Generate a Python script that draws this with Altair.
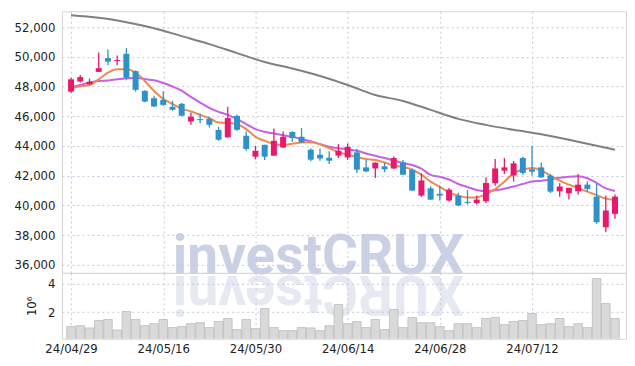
import altair as alt
import pandas as pd

dates = ["24/04/29", "24/04/30", "24/05/02", "24/05/03", "24/05/07", "24/05/08", "24/05/09", "24/05/10", "24/05/13", "24/05/14",
         "24/05/16", "24/05/17", "24/05/20", "24/05/21", "24/05/22", "24/05/23", "24/05/24", "24/05/27", "24/05/28", "24/05/29",
         "24/05/30", "24/05/31", "24/06/03", "24/06/04", "24/06/05", "24/06/07", "24/06/10", "24/06/11", "24/06/12", "24/06/13",
         "24/06/14", "24/06/17", "24/06/18", "24/06/19", "24/06/20", "24/06/21", "24/06/24", "24/06/25", "24/06/26", "24/06/27",
         "24/06/28", "24/07/01", "24/07/02", "24/07/03", "24/07/04", "24/07/05", "24/07/08", "24/07/09", "24/07/10", "24/07/11",
         "24/07/12", "24/07/15", "24/07/16", "24/07/17", "24/07/18", "24/07/19", "24/07/22", "24/07/23", "24/07/24", "24/07/25"]

opens = [47660, 48340, 48160, 48990, 49920, 49720, 50210, 49040, 47710, 47220,
         47110, 46640, 46840, 45650, 45810, 45830, 45080, 44580, 46030, 44690,
         43280, 44080, 43350, 43900, 44940, 44620, 43750, 43410, 43210, 43350,
         43230, 43570, 42560, 42490, 42630, 42490, 42890, 42390, 40660, 41150,
         40780, 40330, 40660, 40240, 40150, 40280, 41490, 42340, 42010, 43190,
         42430, 42560, 42000, 40950, 40820, 40950, 41400, 40590, 38530, 39430]
highs = [48590, 48780, 48540, 50290, 50490, 50090, 50590, 49090, 47760, 47390,
         47690, 47040, 46890, 46250, 46190, 45970, 45290, 46640, 46100, 44980,
         44020, 44090, 45180, 44980, 44990, 45200, 43840, 43840, 43640, 44130,
         44170, 43790, 43060, 42890, 42880, 43290, 43060, 42490, 42160, 41290,
         41330, 41180, 40860, 41040, 40660, 41890, 43120, 43190, 42990, 43280,
         44020, 42890, 42120, 41490, 41190, 42120, 41620, 41450, 40660, 40730]
lows = [47590, 48270, 48140, 48980, 49440, 49440, 48430, 47660, 46940, 46630,
        46700, 46370, 45990, 45430, 45540, 45250, 44350, 44570, 45020, 43680,
        43100, 43060, 43340, 43860, 44290, 44230, 42970, 43010, 42790, 43190,
        43060, 42190, 42230, 41850, 42230, 42450, 42040, 40990, 40570, 40370,
        40330, 40260, 39940, 40060, 40060, 40170, 41330, 42120, 41600, 42070,
        42000, 41840, 40840, 40590, 40390, 40730, 40950, 38760, 38200, 39100]
closes = [48490, 48640, 48330, 49240, 49680, 49790, 48600, 47780, 46990, 46660,
          46770, 46440, 46040, 45970, 45740, 45430, 44420, 45880, 45090, 43800,
          43680, 43280, 44350, 44620, 44540, 44240, 43080, 43160, 43010, 43680,
          43950, 42410, 42290, 42880, 42430, 43190, 42070, 41000, 41680, 40390,
          40660, 41060, 39990, 40170, 40390, 41510, 42490, 42560, 42830, 42190,
          42270, 41890, 40930, 41270, 41180, 41400, 41110, 38870, 39660, 40590]
volumes = [990000, 1060000, 900000, 1420000, 1490000, 760000, 2050000, 1490000, 1060000, 1200000,
           1490000, 920000, 990000, 1200000, 1270000, 920000, 1350000, 1560000, 780000, 1490000,
           850000, 2260000, 920000, 710000, 710000, 920000, 900000, 710000, 1060000, 2540000,
           1200000, 1350000, 920000, 1490000, 780000, 2190000, 920000, 1630000, 1270000, 1270000,
           990000, 710000, 1200000, 1200000, 920000, 1560000, 1630000, 1130000, 1350000, 1420000,
           1910000, 1130000, 1200000, 1560000, 990000, 1200000, 920000, 4370000, 2610000, 1560000]
ma_short = [47886, 48020, 48108, 48490, 48933, 49161, 49161, 48933, 48376, 47705,
            47168, 46833, 46497, 46329, 46094, 45873, 45578, 45557, 45470, 45135,
            44618, 44349, 44128, 44068, 44148, 44235, 44249, 44114, 43846, 43578,
            43410, 43256, 43121, 43054, 42893, 42672, 42605, 42403, 42068, 41598,
            41242, 40880, 40658, 40538, 40538, 40773, 41095, 41598, 42168, 42403,
            42517, 42363, 42001, 41665, 41397, 41162, 40927, 40692, 40457, 40370]
ma_mid = [47953, 48108, 48262, 48376, 48410, 48490, 48557, 48598, 48510, 48423,
          48242, 48007, 47725, 47302, 46920, 46564, 46296, 46094, 45806, 45470,
          45135, 44953, 44839, 44719, 44618, 44464, 44329, 44128, 43947, 43846,
          43779, 43678, 43497, 43343, 43188, 43027, 42860, 42725, 42470, 42054,
          41920, 41746, 41444, 41242, 41041, 40947, 41014, 41128, 41276, 41444,
          41611, 41665, 41752, 41866, 41933, 41967, 41833, 41517, 41142, 40974]
ma_long_idx = [0, 3, 6, 9, 12, 15, 18, 21, 24, 27, 30, 33, 36, 39, 42, 45, 48, 51, 54, 57, 59]
ma_long = [52805, 52638, 52336, 51933, 51396, 50859, 50255, 49651, 49215, 48712, 48108,
           47437, 47034, 46430, 45826, 45423, 45088, 44786, 44417, 44014, 43745]
tick_idx = [0, 10, 20, 30, 40, 50]
price_ticks = [36000, 38000, 40000, 42000, 44000, 46000, 48000, 50000, 52000]

UP = "#e8196c"
DOWN = "#2e91c7"
GRID = "#c3c9de"
FONT = "DejaVu Sans Condensed"

df = pd.DataFrame({"idx": list(range(len(dates))), "date": dates, "open": opens, "high": highs,
                   "low": lows, "close": closes, "vol": volumes, "ma_s": ma_short, "ma_m": ma_mid})
dfl = pd.DataFrame({"idx": ma_long_idx, "ma_l": ma_long})

xdom = [-0.45, 59.65]
label_expr = "[" + ",".join("'%s'" % d for d in dates) + "][datum.value]"

x_hidden = alt.X("idx:Q", scale=alt.Scale(domain=xdom, nice=False, zero=False),
                 axis=alt.Axis(values=tick_idx, labels=False, ticks=False, domain=False, title=None,
                               grid=True, gridColor=GRID, gridDash=[2, 3]))
x_shown = alt.X("idx:Q", scale=alt.Scale(domain=xdom, nice=False, zero=False),
                axis=alt.Axis(values=tick_idx, labelExpr=label_expr, ticks=False, domain=False, title=None,
                              grid=True, gridColor=GRID, gridDash=[2, 3], labelPadding=4,
                              labelFont=FONT, labelFontSize=13, labelColor="#222"))

yprice = alt.Scale(domain=[35460, 53070], nice=False, zero=False)


def price_axis():
    return alt.Axis(values=price_ticks, format=",d", ticks=False, domain=False, title=None,
                    grid=True, gridColor=GRID, gridDash=[2, 3], labelPadding=7, labelOverlap=False,
                    labelFont=FONT, labelFontSize=13, labelColor="#222", labelSeparation=0)


base = alt.Chart(df)

wm_df = pd.DataFrame({"t": ["investCRUX"], "r": ["XURCtsevni"]})
watermark = alt.Chart(wm_df).mark_text(font="Roboto", fontWeight="bold", fontSize=55,
                                       color="#c3c9e0", baseline="alphabetic", align="center",
                                       opacity=0.85).encode(
    text="t:N", x=alt.value(257), y=alt.value(263))

grid_anchor = base.mark_line(opacity=0).encode(x=x_hidden, y=alt.Y("close:Q", scale=yprice, axis=price_axis()))

line_l = alt.Chart(dfl).mark_line(color="#808080", strokeWidth=2, interpolate="monotone").encode(
    x=alt.X("idx:Q"), y=alt.Y("ma_l:Q", axis=price_axis()))
line_m = base.mark_line(color="#c95fe6", strokeWidth=2, interpolate="monotone").encode(
    x=alt.X("idx:Q"), y=alt.Y("ma_m:Q", axis=price_axis()))
line_s = base.mark_line(color="#ec8a52", strokeWidth=2, interpolate="monotone").encode(
    x=alt.X("idx:Q"), y=alt.Y("ma_s:Q", axis=price_axis()))

col = alt.condition("datum.close >= datum.open", alt.value(UP), alt.value(DOWN))
wick = base.mark_rule(strokeWidth=1.3).encode(x="idx:Q", y=alt.Y("low:Q", axis=price_axis()), y2="high:Q", color=col)
body = base.mark_bar(size=6).encode(x="idx:Q", y=alt.Y("open:Q", axis=price_axis()), y2="close:Q", color=col)

price = alt.layer(grid_anchor, watermark, line_l, line_m, line_s, wick, body).properties(width=565, height=262)

refl = alt.Chart(wm_df).mark_text(font="Roboto", fontWeight="bold", fontSize=55,
                                  color="#c3c9e0", baseline="alphabetic", align="center",
                                  angle=180, opacity=0.4).encode(
    text="r:N", x=alt.value(257), y=alt.value(3))

vol_axis = alt.Axis(values=[2000000, 4000000], labelExpr="datum.value / 1000000", ticks=False, domain=False,
                    title="10⁶", titleFont=FONT, titleFontSize=13, titleFontWeight="normal", titleColor="#222",
                    titlePadding=9, grid=True, gridColor=GRID, gridDash=[2, 3], labelPadding=7,
                    labelOverlap=False, labelFont=FONT, labelFontSize=13, labelColor="#222")
vbars = base.mark_bar(size=8.6, color="#d9d9d9", stroke="#bdbdbd", strokeWidth=0.8, clip=True).encode(
    x=x_shown,
    y=alt.Y("vol:Q", scale=alt.Scale(domain=[140000, 4760000], nice=False, zero=False), axis=vol_axis))

volume = alt.layer(refl, vbars).properties(width=565, height=66)

chart = alt.vconcat(price, volume, spacing=0, bounds="flush").properties(
    padding={"left": 5, "top": 2, "right": 0, "bottom": 0}
).configure_view(stroke="#d6d6d6").configure_axis(labelFont=FONT, labelOverlap=False)

chart.save("out.html", embed_options={"renderer": "svg", "actions": False})
